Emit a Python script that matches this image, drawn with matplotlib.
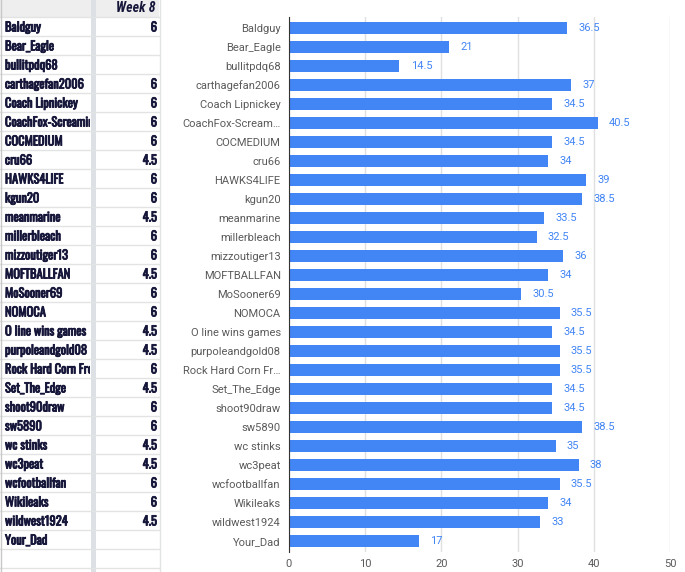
import matplotlib
matplotlib.use("Agg")
import matplotlib.pyplot as plt
import matplotlib.patheffects as pe
from matplotlib.lines import Line2D
from matplotlib.patches import Rectangle
from matplotlib.transforms import Bbox, TransformedBbox

# Sheet column + chart data
players = ["Baldguy", "Bear_Eagle", "bullitpdq68", "carthagefan2006", "Coach Lipnickey",
           "CoachFox-Screaming", "COCMEDIUM", "cru66", "HAWKS4LIFE", "kgun20",
           "meanmarine", "millerbleach", "mizzoutiger13", "MOFTBALLFAN", "MoSooner69",
           "NOMOCA", "O line wins games", "purpoleandgold08", "Rock Hard Corn Frog",
           "Set_The_Edge", "shoot90draw", "sw5890", "wc stinks", "wc3peat",
           "wcfootballfan", "Wikileaks", "wildwest1924", "Your_Dad"]
chart_labels = ["Baldguy", "Bear_Eagle", "bullitpdq68", "carthagefan2006", "Coach Lipnickey",
                "CoachFox-Scream…", "COCMEDIUM", "cru66", "HAWKS4LIFE", "kgun20",
                "meanmarine", "millerbleach", "mizzoutiger13", "MOFTBALLFAN", "MoSooner69",
                "NOMOCA", "O line wins games", "purpoleandgold08", "Rock Hard Corn Fr…",
                "Set_The_Edge", "shoot90draw", "sw5890", "wc stinks", "wc3peat",
                "wcfootballfan", "Wikileaks", "wildwest1924", "Your_Dad"]
week8 = ["6", "", "", "6", "6", "6", "6", "4.5", "6", "6", "4.5", "6", "6", "4.5", "6",
         "6", "4.5", "4.5", "6", "4.5", "6", "6", "4.5", "4.5", "6", "6", "4.5", ""]
totals = [36.5, 21, 14.5, 37, 34.5, 40.5, 34.5, 34, 39, 38.5, 33.5, 32.5, 36, 34, 30.5,
          35.5, 34.5, 35.5, 35.5, 34.5, 34.5, 38.5, 35, 38, 35.5, 34, 33, 17]
x_ticks = [0, 10, 20, 30, 40, 50]

W, H = 685, 572
BLUE = "#4285f4"
INK = "#16163a"
GRID = "#e0e0e0"
CELL_LINE = "#e2e3e3"
SHEET_FONT = "Oswald"
# Oswald only ships one weight here, so thicken the strokes to look bold like the sheet
BOLDEN = [pe.withStroke(linewidth=0.6, foreground=INK)]

def fx(px):
    return px / W

def fy(py):
    return 1 - py / H

fig = plt.figure(figsize=(W / 100, H / 100), dpi=100)
fig.patch.set_facecolor("white")

# ---- spreadsheet on the left ----
row_h = 19
top = 17
fig.add_artist(Rectangle((0, fy(top)), fx(159), top / H, transform=fig.transFigure,
                         facecolor="#eeeeee", edgecolor="none"))
for k in range(30):
    y = fy(top + k * row_h)
    fig.add_artist(Line2D([0, fx(159)], [y, y], transform=fig.transFigure,
                          color=CELL_LINE, linewidth=1))
fig.add_artist(Line2D([fx(0.5), fx(0.5)], [0, 1], transform=fig.transFigure,
                      color="#c8c8c8", linewidth=1))
fig.add_artist(Rectangle((fx(91), 0), fx(5), 1, transform=fig.transFigure,
                         facecolor="#dde1e6", edgecolor="none"))
fig.add_artist(Line2D([fx(159.5), fx(159.5)], [0, 1], transform=fig.transFigure,
                      color=CELL_LINE, linewidth=1))
fig.text(fx(155), fy(8.5), "Week 8", ha="right", va="center", fontsize=10,
         style="italic", fontweight="bold", color=INK, family="Roboto Condensed")

# names are cut off at the column divider like in the sheet
name_clip = TransformedBbox(Bbox([[0, 0], [fx(90), 1]]), fig.transFigure)
for i, (name, val) in enumerate(zip(players, week8)):
    yc = fy(top + i * row_h + 10.5)
    t = fig.text(fx(5), yc, name, ha="left", va="center", fontsize=9,
                 color=INK, family=SHEET_FONT, path_effects=BOLDEN)
    t.set_clip_box(name_clip)
    t.set_clip_on(True)
    if val:
        fig.text(fx(157), yc, val, ha="right", va="center", fontsize=9,
                 color=INK, family=SHEET_FONT, path_effects=BOLDEN)

# ---- bar chart on the right ----
ax = fig.add_axes([fx(289), fy(552.4), fx(381), (552.4 - 16.6) / H])
ypos = list(range(len(totals)))
ax.barh(ypos, totals, height=0.63, color=BLUE, zorder=3)
for y, v in zip(ypos, totals):
    ax.annotate(f"{v:g}", xy=(v, y), xytext=(8, 0), textcoords="offset points",
                ha="left", va="center", fontsize=8, color=BLUE, family="Roboto")
ax.set_xlim(0, 50)
ax.set_ylim(len(totals) - 0.4, -0.6)
ax.set_xticks(x_ticks)
ax.set_yticks(ypos)
ax.set_yticklabels(chart_labels)
ax.xaxis.grid(True, color=GRID, linewidth=1, zorder=0)
ax.set_axisbelow(True)
ax.tick_params(axis="both", length=0, labelsize=8, colors="#5a5a5a")
ax.tick_params(axis="y", pad=6)
ax.tick_params(axis="x", pad=5)
for lab in ax.get_xticklabels() + ax.get_yticklabels():
    lab.set_family("Roboto")
for s in ("top", "right", "bottom"):
    ax.spines[s].set_visible(False)
ax.spines["left"].set_color("#333333")
ax.spines["left"].set_zorder(4)

fig.savefig("out.png", dpi=100, facecolor="white")
